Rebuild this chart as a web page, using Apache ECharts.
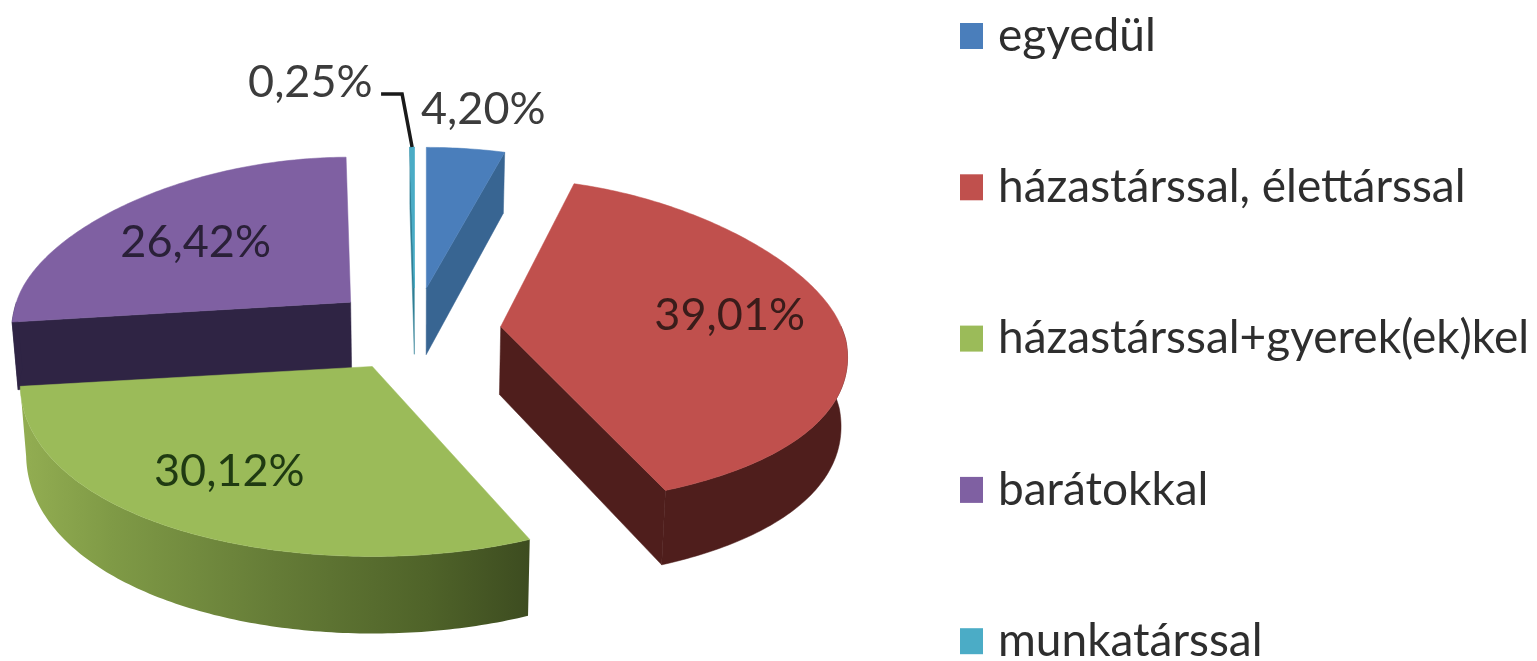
<!DOCTYPE html>
<html><head><meta charset="utf-8">
<style>html,body{margin:0;padding:0;background:#fff}#c{width:1537px;height:661px}</style>
<script src="https://cdn.jsdelivr.net/npm/echarts@6/dist/echarts.min.js"></script>
</head><body><div id="c"></div>
<script>
const categories = ['egyedül', 'házastárssal, élettárssal', 'házastárssal+gyerek(ek)kel', 'barátokkal', 'munkatárssal'];
const shares = [4.20, 39.01, 30.12, 26.42, 0.25];

const topColors = ['#4a7ebb', '#c0504d', '#9bbb59', '#7f60a2', '#4bacc6'];
const sideColors = ['#386592', '#4f1e1c', '#4f6329', '#2f2444', '#2f7f95'];
const labelColors = ['#3c3c3c', '#3a1c1a', '#1f3a12', '#2a2038', '#3c3c3c'];
const labelOffsets = [[57, -179], [229, -11], [-143, 105], [-155, -60], [-104, -206]];
const frontRadii = [190, 180, 190, 190, 190];
const backRadii = [141, 148, 144, 145, 141];
const frontSpread = [0.0005, 0.001, 0.0005, 0.0005, 0.0005];
const backSpread = [0.0007, 0.0012, 0.0009, 0.0009, 0.0009];
const drawOrder = [3, 4, 0, 1, 2];
const G = { cx: 415, cy: 330, ex: 86, ey: 42, rx: 346, yRef: 340, depth: 68, depthK: 0.04, shrink: 0.985 };

const total = shares.reduce((a, b) => a + b, 0);
const rad = v => v / total * Math.PI * 2;
function sliceAngles(i) {
  let a = 0;
  for (let j = 0; j < i; j++) a += rad(shares[j]);
  return [a, a + rad(shares[i])];
}
function apex(i) {
  const [a, b] = sliceAngles(i), m = (a + b) / 2;
  return [G.cx + G.ex * Math.sin(m), G.cy - G.ey * Math.cos(m)];
}
function rimPoint(i, t) {
  const p = apex(i), c = Math.cos(t);
  const y = p[1] - (c > 0 ? backRadii[i] : frontRadii[i]) * c;
  const k = y < G.yRef ? backSpread[i] : frontSpread[i];
  const x = p[0] + G.rx * Math.sin(t) * (1 + (y - G.yRef) * k);
  return [x, y];
}
function lower(p) {
  return [G.cx + (p[0] - G.cx) * G.shrink, p[1] + G.depth + (p[1] - G.cy) * G.depthK];
}
function arc(i, a, b) {
  const n = Math.max(2, Math.ceil((b - a) / 0.015)), pts = [];
  for (let s = 0; s <= n; s++) pts.push(rimPoint(i, a + (b - a) * s / n));
  return pts;
}
function poly(points, fill) {
  return { type: 'polygon', shape: { points }, style: { fill, stroke: fill, lineWidth: 0.5 } };
}
function sliceRenderer(i) {
  return function (params, api) {
    const [a, b] = sliceAngles(i);
    const A = apex(i), kids = [];
    const rimA = rimPoint(i, a), rimB = rimPoint(i, b);
    if (Math.cos(a - Math.PI / 2) < 0) kids.push(poly([A, rimA, lower(rimA), lower(A)], sideColors[i]));
    if (Math.cos(b + Math.PI / 2) < 0) kids.push(poly([A, rimB, lower(rimB), lower(A)], sideColors[i]));
    const fa = Math.max(a, Math.PI / 2), fb = Math.min(b, Math.PI * 1.5);
    if (fb > fa) {
      const top = arc(i, fa, fb), bot = top.map(lower).reverse();
      if (i === 2) {
        const fill = new echarts.graphic.LinearGradient(0, 0, 1, 0, [
          { offset: 0, color: '#93ae52' }, { offset: 0.18, color: '#7f9a46' },
          { offset: 0.5, color: '#657c37' }, { offset: 0.8, color: '#4f6329' }, { offset: 1, color: '#3d4c20' }
        ]);
        kids.push({ type: 'polygon', shape: { points: top.concat(bot) }, style: { fill } });
      } else {
        kids.push(poly(top.concat(bot), sideColors[i]));
      }
    }
    kids.push(poly([A].concat(arc(i, a, b)), topColors[i]));
    if (shares[i] < 1) {
      const e = rimPoint(i, (a + b) / 2);
      kids.push({ type: 'polygon', shape: { points: [A, lower(A), rimB] }, style: { fill: '#c9cfd2' } });
      kids.push(poly([A].concat(arc(i, a, b)), topColors[i]));
      kids.push({ type: 'polyline', shape: { points: [[e[0], e[1]], [e[0] - 10, e[1] - 53], [e[0] - 31, e[1] - 53]] },
        style: { stroke: '#1a1a1a', lineWidth: 3.5, fill: 'none' } });
    }
    const off = labelOffsets[i];
    kids.push({ type: 'text', z2: 10, x: A[0] + off[0], y: A[1] + off[1], style: {
      text: api.value(0).toFixed(2).replace('.', ',') + '%', fill: labelColors[i],
      font: '45px Lato', align: 'center', verticalAlign: 'middle' } });
    return { type: 'group', children: kids };
  };
}
const series = categories.map((name, i) => ({
  type: 'custom', name, coordinateSystem: 'none', data: [[shares[i]]],
  z: 2 + drawOrder.indexOf(i), itemStyle: { color: topColors[i] },
  renderItem: sliceRenderer(i), silent: true, animation: false
}));
const chart = echarts.init(document.getElementById('c'), null, { renderer: 'canvas' });
chart.setOption({
  animation: false, backgroundColor: '#ffffff',
  legend: {
    orient: 'vertical', left: 960, top: 13, height: 720, padding: 0, itemWidth: 23, itemHeight: 26, itemGap: 105.3,
    icon: 'rect', selectedMode: false, data: categories,
    textStyle: { fontFamily: 'Lato', fontSize: 46, color: '#2e2e2e', padding: [0, 0, 0, 10], lineHeight: 30 }
  },
  series
});
</script></body></html>
